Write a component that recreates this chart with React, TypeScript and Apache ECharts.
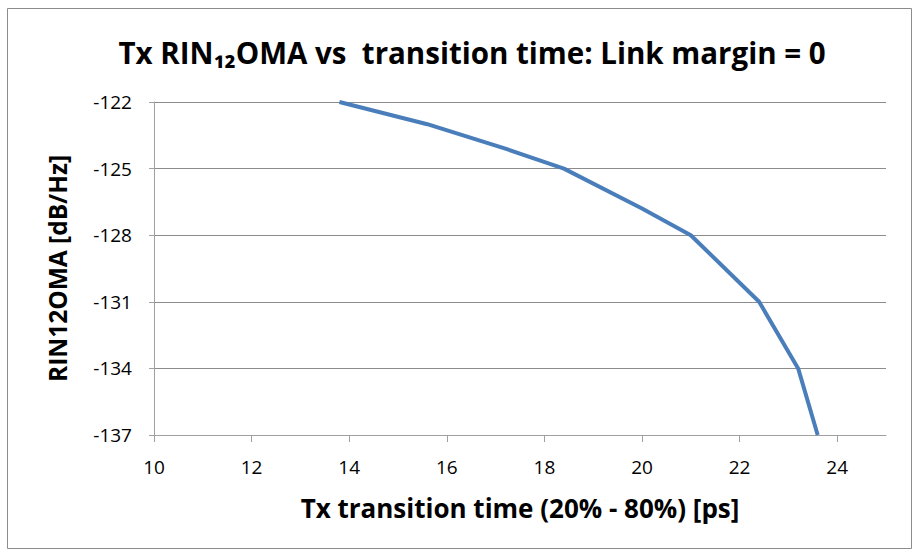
import React, { useEffect, useRef } from "react";
import * as echarts from "echarts";

const titleText = "Tx RIN\u2081\u2082OMA vs  transition time: Link margin = 0";
const xAxisName = "Tx transition time (20% - 80%) [ps]";
const yAxisName = "RIN12OMA [dB/Hz]";
const transitionTime = [13.8, 15.6, 17.2, 18.4, 20.0, 21.0, 22.4, 23.2, 23.6];
const rinOma = [-122, -123.0, -124.1, -125, -126.8, -128, -131, -134, -137];

export default function App() {
  const ref = useRef<HTMLDivElement>(null);
  useEffect(() => {
    if (!ref.current) return;
    const chart = echarts.init(ref.current, null, { renderer: "svg" });
    const font = "'Open Sans', 'Noto Sans', sans-serif";
    chart.setOption({
      animation: false,
      backgroundColor: "#ffffff",
      graphic: [
        {
          type: "rect",
          shape: { x: 7.5, y: 8.5, width: 904, height: 540 },
          style: { fill: "none", stroke: "#8c8c8c", lineWidth: 1 },
          z: 0,
        },
      ],
      title: {
        text: titleText,
        left: 467,
        top: 32,
        textAlign: "center",
        textStyle: {
          fontFamily: font,
          fontSize: 29.5,
          fontWeight: "bold",
          color: "#000",
        },
      },
      grid: { left: 154, right: 34, top: 102, bottom: 125 },
      xAxis: {
        type: "value",
        min: 10,
        max: 25,
        interval: 2,
        name: xAxisName,
        nameLocation: "middle",
        nameGap: 60,
        nameTextStyle: { fontFamily: font, fontSize: 26, fontWeight: "bold", color: "#000" },
        axisLine: { show: true, lineStyle: { color: "#a0a0a0", width: 1 } },
        axisTick: { show: true, length: 7, lineStyle: { color: "#a0a0a0" } },
        axisLabel: {
          fontFamily: font,
          fontSize: 19,
          color: "#000",
          margin: 22,
          showMaxLabel: false,
          formatter: (v: number) => (v % 2 === 0 ? String(v) : ""),
        },
        splitLine: { show: false },
      },
      yAxis: {
        type: "value",
        min: -137,
        max: -122,
        interval: 3,
        name: yAxisName,
        nameLocation: "middle",
        nameGap: 84,
        nameRotate: 90,
        nameTextStyle: { fontFamily: font, fontSize: 24.5, fontWeight: "bold", color: "#000" },
        axisLine: { show: true, lineStyle: { color: "#a0a0a0", width: 1 } },
        axisTick: { show: true, length: 5, inside: false, lineStyle: { color: "#a0a0a0" } },
        axisLabel: { fontFamily: font, fontSize: 19, color: "#000", margin: 22 },
        splitLine: { show: true, lineStyle: { color: "#8c8c8c", width: 1 } },
      },
      series: [
        {
          type: "line",
          data: transitionTime.map((x, i) => [x, rinOma[i]]),
          showSymbol: false,
          symbol: "none",
          lineStyle: { color: "#4a7ebb", width: 4 },
          clip: false,
        },
      ],
    });
    return () => chart.dispose();
  }, []);
  return (
    <div
      ref={ref}
      style={{ position: "fixed", left: 0, top: 0, width: 920, height: 560 }}
    />
  );
}
